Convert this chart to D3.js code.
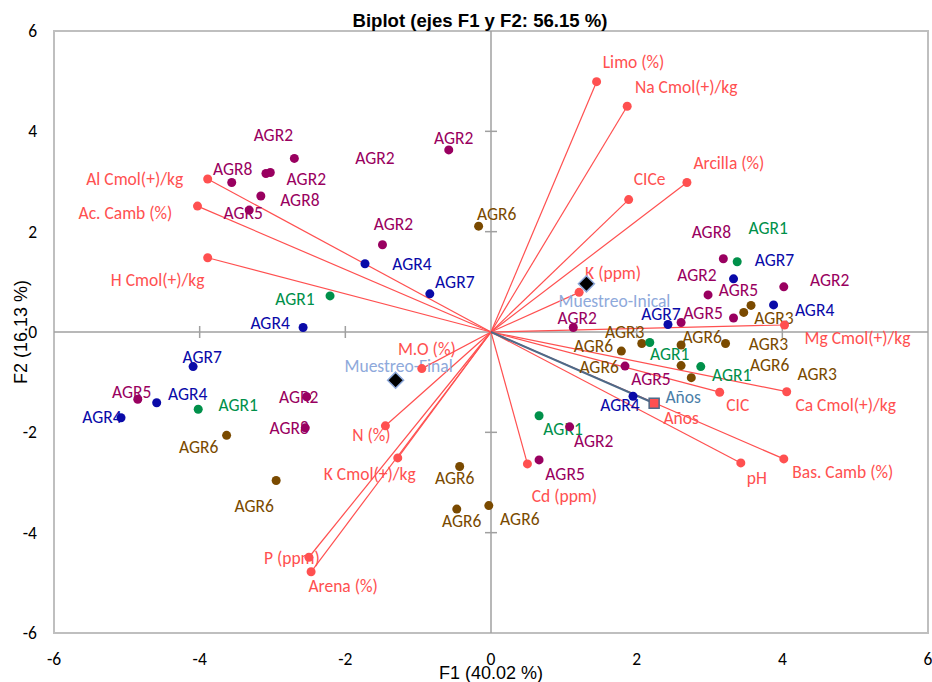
<!DOCTYPE html>
<html>
<head>
<meta charset="utf-8">
<script src="https://cdn.jsdelivr.net/npm/d3@7"></script>
<style>
  body { margin: 0; background: #fff; }
  svg text { font-family: Carlito, Lato, "Open Sans", sans-serif; }
</style>
</head>
<body>
<div id="chart"></div>
<script>
// Active variables (red vectors)
const varNames = ["Limo (%)", "Na Cmol(+)/kg", "Arcilla (%)", "CICe", "K (ppm)", "Mg Cmol(+)/kg",
  "Ca Cmol(+)/kg", "CIC", "pH", "Bas. Camb (%)", "Cd (ppm)", "M.O (%)", "N (%)", "K Cmol(+)/kg",
  "P (ppm)", "Arena (%)", "Al Cmol(+)/kg", "Ac. Camb  (%)", "H Cmol(+)/kg"];
const varF1 = [1.45, 1.87, 2.69, 1.89, 1.21, 4.03, 4.06, 3.14, 3.43, 4.02, 0.50, -0.95, -1.45, -1.28,
  -2.50, -2.47, -3.89, -4.03, -3.89];
const varF2 = [4.99, 4.50, 2.98, 2.64, 0.79, 0.14, -1.19, -1.20, -2.61, -2.53, -2.63, -0.73, -1.87, -2.51,
  -4.49, -4.78, 3.05, 2.51, 1.48];
// label offsets in px (dx, dy)
const varLabelDx = [37, 59, 42, 21, 34, 73, 59, 18, 16, 59, 37, 5, -14, -28, -17, 32, -73, -72, -50];
const varLabelDy = [-20, -19, -20, -21, -19, 13, 13, 13, 15, 13, 32, -20, 9, 16, 1, 14, 0, 7, 22];

// Supplementary variable
const supName = "Años";
const supF1 = 2.24;
const supF2 = -1.42;

// Supplementary observations (diamonds)
const sampNames = ["Muestreo-Inical", "Muestreo-Final"];
const sampF1 = [1.31, -1.31];
const sampF2 = [0.96, -0.96];
const sampLabelOff = [[28, 17], [3, -14]];

// Observations
const obsNames = ["AGR2", "AGR2", "AGR2", "AGR8", "AGR8", "AGR5", "AGR1", "AGR4", "AGR2", "AGR2",
  "AGR6", "AGR4", "AGR7", "AGR8", "AGR1", "AGR7", "AGR2", "AGR2", "AGR5", "AGR4",
  "AGR3", "AGR6", "AGR3", "AGR6", "AGR6", "AGR3", "AGR6", "AGR3", "AGR1", "AGR1",
  "AGR2", "AGR5", "AGR5", "AGR7", "AGR4", "AGR7", "AGR5", "AGR4", "AGR4", "AGR1",
  "AGR2", "AGR8", "AGR6", "AGR6", "AGR1", "AGR2", "AGR5", "AGR6", "AGR6", "AGR6"];
const obsF1 = [-2.70, -3.03, -3.09, -3.56, -3.16, -3.32, -2.21, -2.58, -0.58, -1.49,
  -0.17, -1.73, -0.84, 3.19, 3.38, 3.33, 2.98, 4.02, 3.33, 3.88,
  3.57, 3.47, 2.07, 1.79, 2.61, 3.22, 2.61, 2.75, 2.18, 2.88,
  1.13, 2.61, 1.84, 2.43, 1.95, -4.09, -4.85, -4.59, -5.08, -4.02,
  -2.53, -2.55, -3.63, -2.95, 0.66, 1.08, 0.66, -0.43, -0.47, -0.03];
const obsF2 = [3.46, 3.18, 3.16, 2.98, 2.71, 2.43, 0.72, 0.09, 3.63, 1.74,
  2.11, 1.36, 0.76, 1.46, 1.40, 1.06, 0.74, 0.90, 0.28, 0.54,
  0.53, 0.39, -0.23, -0.38, -0.26, -0.23, -0.67, -0.91, -0.21, -0.69,
  0.09, 0.19, -0.68, 0.15, -1.28, -0.69, -1.34, -1.41, -1.71, -1.54,
  -1.29, -1.91, -2.06, -2.96, -1.67, -1.89, -2.55, -2.68, -3.53, -3.46];
const obsLabelOff = [[-21, -24], [36, 6], [109, -16], [1, -14], [39, 4], [-6, 3], [-35, 3], [-33, -5], [5, -12], [11, -21],
  [18, -12], [47, 0], [25, -12], [-12, -27], [31, -34], [41, -19], [-11, -20], [46, -7], [5, -28], [41, 5],
  [23, 12], [26, 52], [-17, -12], [-28, -5], [21, -8], [43, 0], [-82, 1], [126, -4], [20, 11], [31, 8],
  [4, -10], [22, -10], [26, 13], [-7, -11], [-13, 9], [9, -10], [-6, -7], [31, -9], [-19, -1], [40, -4],
  [-8, 0], [-16, 0], [-28, 12], [-22, 25], [24, 13], [24, 14], [26, 14], [-5, 11], [5, 12], [31, 13]];

const ticks = [-6, -4, -2, 0, 2, 4, 6];

const groupColor = {
  AGR1: "#00904A", AGR2: "#990060", AGR5: "#990060", AGR8: "#990060",
  AGR3: "#7A4A00", AGR6: "#7A4A00", AGR4: "#0A0AA8", AGR7: "#0A0AA8"
};
const red = "#FF5050";
const supColor = "#4E6A88";
const sampColor = "#8EA9DB";
const labelSize = 17.5;

const width = 932, height = 682;
const svg = d3.select("#chart").append("svg")
  .attr("width", width).attr("height", height);

const x = d3.scaleLinear().domain([-6, 6]).range([54, 928]);
const y = d3.scaleLinear().domain([-6, 6]).range([633, 31]);

// frame
svg.append("rect")
  .attr("x", x(-6)).attr("y", y(6))
  .attr("width", x(6) - x(-6)).attr("height", y(-6) - y(6))
  .attr("fill", "none").attr("stroke", "#BFBFBF").attr("stroke-width", 2);

// central axes
svg.append("line").attr("x1", x(-6)).attr("x2", x(6)).attr("y1", y(0)).attr("y2", y(0))
  .attr("stroke", "#A0A0A0").attr("stroke-width", 1.5);
svg.append("line").attr("x1", x(0)).attr("x2", x(0)).attr("y1", y(6)).attr("y2", y(-6))
  .attr("stroke", "#A0A0A0").attr("stroke-width", 1.5);

// cross ticks on the central axes
const inner = ticks.filter(t => t !== 0 && Math.abs(t) < 6);
svg.append("g").selectAll("line").data(inner).enter().append("line")
  .attr("x1", x(0) - 6).attr("x2", x(0) + 6)
  .attr("y1", d => y(d)).attr("y2", d => y(d))
  .attr("stroke", "#A0A0A0").attr("stroke-width", 1.5);
svg.append("g").selectAll("line").data(inner).enter().append("line")
  .attr("y1", y(0) - 6).attr("y2", y(0) + 6)
  .attr("x1", d => x(d)).attr("x2", d => x(d))
  .attr("stroke", "#A0A0A0").attr("stroke-width", 1.5);

// tick labels
svg.append("g").selectAll("text").data(ticks).enter().append("text")
  .attr("x", d => x(d)).attr("y", 659).attr("dy", "0.35em")
  .attr("text-anchor", "middle").attr("font-size", 17.5).attr("fill", "#000")
  .text(d => d);
svg.append("g").selectAll("text").data(ticks).enter().append("text")
  .attr("x", 37).attr("y", d => y(d)).attr("dy", "0.35em")
  .attr("text-anchor", "end").attr("font-size", 17.5).attr("fill", "#000")
  .text(d => d);

// titles
svg.append("text").attr("x", 480).attr("y", 21).attr("dy", "0.35em")
  .attr("text-anchor", "middle").attr("font-size", 18.5).attr("font-weight", "bold")
  .style("font-family", "'Liberation Sans', Arial, sans-serif")
  .attr("textLength", 255).attr("lengthAdjust", "spacingAndGlyphs")
  .text("Biplot (ejes F1 y F2: 56.15 %)");
svg.append("text").attr("x", 491).attr("y", 673).attr("dy", "0.35em")
  .attr("text-anchor", "middle").attr("font-size", 18)
  .style("font-family", "'Liberation Sans', Arial, sans-serif")
  .text("F1 (40.02 %)");
svg.append("text").attr("transform", "translate(21,332) rotate(-90)").attr("dy", "0.35em")
  .attr("text-anchor", "middle").attr("font-size", 18)
  .style("font-family", "'Liberation Sans', Arial, sans-serif")
  .text("F2 (16.13 %)");

// variable vectors
const vars = varNames.map((n, i) => ({ name: n, f1: varF1[i], f2: varF2[i], dx: varLabelDx[i], dy: varLabelDy[i] }));
svg.append("g").selectAll("line").data(vars).enter().append("line")
  .attr("x1", x(0)).attr("y1", y(0))
  .attr("x2", d => x(d.f1)).attr("y2", d => y(d.f2))
  .attr("stroke", red).attr("stroke-width", 1.2);

// supplementary variable vector
svg.append("line").attr("x1", x(0)).attr("y1", y(0))
  .attr("x2", x(supF1)).attr("y2", y(supF2))
  .attr("stroke", supColor).attr("stroke-width", 2);

// observation labels
const obs = obsNames.map((n, i) => ({ name: n, f1: obsF1[i], f2: obsF2[i], off: obsLabelOff[i] }));
svg.append("g").selectAll("text").data(obs).enter().append("text")
  .attr("x", d => x(d.f1) + d.off[0]).attr("y", d => y(d.f2) + d.off[1]).attr("dy", "0.35em")
  .attr("text-anchor", "middle").attr("font-size", labelSize)
  .attr("fill", d => groupColor[d.name])
  .text(d => d.name);

// variable labels
svg.append("g").selectAll("text").data(vars).enter().append("text")
  .attr("x", d => x(d.f1) + d.dx).attr("y", d => y(d.f2) + d.dy).attr("dy", "0.35em")
  .attr("text-anchor", "middle").attr("font-size", labelSize).attr("fill", red)
  .text(d => d.name);
svg.append("text").attr("x", x(supF1) + 29).attr("y", y(supF2) - 6).attr("dy", "0.35em")
  .attr("text-anchor", "middle").attr("font-size", labelSize).attr("fill", "#4A7EA8").text(supName);
svg.append("text").attr("x", x(supF1) + 27).attr("y", y(supF2) + 15).attr("dy", "0.35em")
  .attr("text-anchor", "middle").attr("font-size", labelSize).attr("fill", red).text(supName);

// sample labels
const samps = sampNames.map((n, i) => ({ name: n, f1: sampF1[i], f2: sampF2[i], off: sampLabelOff[i] }));
svg.append("g").selectAll("text").data(samps).enter().append("text")
  .attr("x", d => x(d.f1) + d.off[0]).attr("y", d => y(d.f2) + d.off[1]).attr("dy", "0.35em")
  .attr("text-anchor", "middle").attr("font-size", labelSize).attr("fill", sampColor)
  .text(d => d.name);

// observation points
svg.append("g").selectAll("circle").data(obs).enter().append("circle")
  .attr("cx", d => x(d.f1)).attr("cy", d => y(d.f2)).attr("r", 4.5)
  .attr("fill", d => groupColor[d.name]);

// variable points
svg.append("g").selectAll("circle").data(vars).enter().append("circle")
  .attr("cx", d => x(d.f1)).attr("cy", d => y(d.f2)).attr("r", 4.5)
  .attr("fill", red);

// supplementary variable marker
svg.append("rect").attr("x", x(supF1) - 5).attr("y", y(supF2) - 5)
  .attr("width", 10).attr("height", 10)
  .attr("fill", red).attr("stroke", supColor).attr("stroke-width", 1.5);

// sample diamonds
svg.append("g").selectAll("path").data(samps).enter().append("path")
  .attr("d", "M0,-8L8,0L0,8L-8,0Z")
  .attr("transform", d => `translate(${x(d.f1)},${y(d.f2)})`)
  .attr("fill", "#000").attr("stroke", sampColor).attr("stroke-width", 1.5);
</script>
</body>
</html>
